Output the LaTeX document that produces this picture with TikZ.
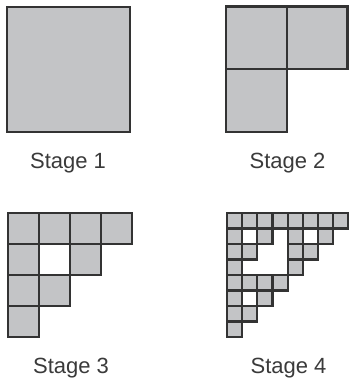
\documentclass[tikz,border=0pt]{standalone}
\usepackage{fontspec}
\setmainfont{Liberation Sans}
\definecolor{cellgray}{HTML}{C3C4C6}
\definecolor{edgegray}{HTML}{333333}
\definecolor{textgray}{HTML}{3A3A3A}
\tikzset{
  cell/.style={fill=cellgray, draw=edgegray, line width=2.1pt, line join=miter},
  stagelabel/.style={anchor=base, inner sep=0pt, text=textgray, font=\fontsize{22}{26}\selectfont}
}
\begin{document}
\begin{tikzpicture}[x=1pt,y=-1pt]
\useasboundingbox (0,0) rectangle (349,379);
% Stage 1
\draw[cell] (7,7) rectangle (130,132);
% Stage 2
\def\cwB{60.75}\def\chB{62.75}
\foreach \r/\c in {0/0,0/1,1/0}
  \draw[cell] ({226+\c*\cwB},{6.5+\r*\chB}) rectangle ++(\cwB,\chB);
% Stage 3
\def\cwC{31}\def\chC{31}
\foreach \r/\cols in {0/{0,1,2,3},1/{0,2},2/{0,1},3/{0}}
  \foreach \c in \cols
    \draw[cell] ({8+\c*\cwC},{213+\r*\chC}) rectangle ++(\cwC,\chC);
% Stage 4
\def\cwD{15.15}\def\chD{15.5}
\foreach \r/\cols in {0/{0,1,2,3,4,5,6,7},1/{0,2,4,6},2/{0,1,4,5},3/{0,4},4/{0,1,2,3},5/{0,2},6/{0,1},7/{0}}
  \foreach \c in \cols
    \draw[cell] ({227+\c*\cwD},{213+\r*\chD}) rectangle ++(\cwD,\chD);
% Labels
\node[stagelabel] (s1) at (68,168) {Stage 1};
\node[stagelabel] (s2) at (287.5,168) {Stage 2};
\node[stagelabel] (s3) at (71,373) {Stage 3};
\node[stagelabel] (s4) at (288.5,373) {Stage 4};
\end{tikzpicture}
\end{document}
